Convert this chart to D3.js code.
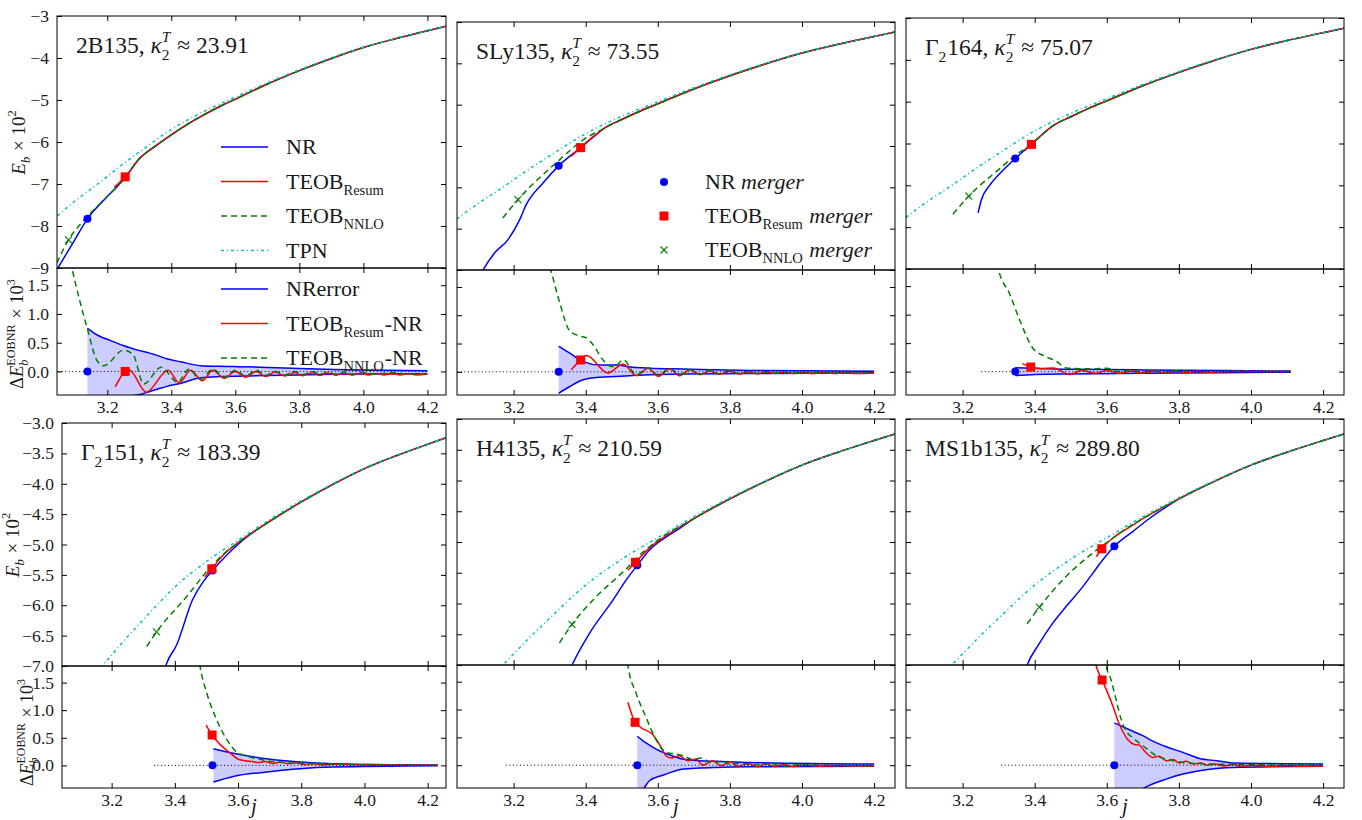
<!DOCTYPE html>
<html>
<head>
<meta charset="utf-8">
<script src="https://cdn.jsdelivr.net/npm/d3@7"></script>
<style>
  body { margin: 0; background: #fff; }
  svg text { font-family: "Liberation Serif", "DejaVu Serif", serif; fill: #1a1a1a; white-space: pre; }
</style>
</head>
<body>
<svg id="chart" width="1362" height="820"></svg>
<script>
// ---- data ----
const jTicks = [3.2, 3.4, 3.6, 3.8, 4.0, 4.2];
const jDomain = [3.043, 4.258];
const ebDomainTop = [-9, -3];
const ebTicksTop = [-9, -8, -7, -6, -5, -4, -3];
const ebDomainBottom = [-7, -3];
const ebTicksBottom = [-7, -6.5, -6, -5.5, -5, -4.5, -4, -3.5, -3];
const dDomain = [-0.41, 1.8];
const dTicks = [0, 0.5, 1, 1.5];

const eosLabels = ['2B135', 'SLy135', 'Γ_2164', 'Γ_2151', 'H4135', 'MS1b135'];
const kappaT = ['23.91', '73.55', '75.07', '183.39', '210.59', '289.80'];

// binding energy where all EOB/NR curves coincide  [j, Eb x 1e2]
const commonCurve = [[3.30, -6.40], [3.35, -6.10], [3.40, -5.83], [3.45, -5.58], [3.50, -5.36],
  [3.55, -5.16], [3.60, -4.98], [3.70, -4.62], [3.80, -4.30], [3.90, -4.01], [4.00, -3.75],
  [4.10, -3.54], [4.20, -3.35], [4.26, -3.24]];
const tpnCurve = [[3.02, -7.90], [3.04, -7.78], [3.10, -7.40], [3.17, -7.00], [3.25, -6.52],
  [3.30, -6.24], [3.40, -5.70], [3.50, -5.28], [3.60, -4.93], [3.70, -4.59], [3.80, -4.28],
  [3.90, -4.00], [4.00, -3.745], [4.10, -3.54], [4.20, -3.35], [4.26, -3.24]];

const nrLow = [
  [[3.03, -9.2], [3.10, -8.31], [3.138, -7.83], [3.20, -7.30], [3.256, -6.85]],
  [[3.105, -9.2], [3.119, -8.95], [3.147, -8.59], [3.184, -8.27], [3.217, -7.78], [3.235, -7.42],
   [3.281, -6.90], [3.325, -6.48], [3.386, -6.04], [3.43, -5.72]],
  [[3.243, -7.66], [3.252, -7.35], [3.275, -7.00], [3.312, -6.64], [3.346, -6.36], [3.391, -6.02], [3.42, -5.79]],
  [[3.36, -7.2], [3.374, -6.96], [3.406, -6.65], [3.456, -5.91], [3.49, -5.61], [3.519, -5.43], [3.585, -5.07], [3.62, -4.91]],
  [[3.355, -7.1], [3.364, -6.98], [3.41, -6.49], [3.475, -5.95], [3.512, -5.62], [3.543, -5.38],
   [3.577, -5.13], [3.623, -4.92], [3.65, -4.82]],
  [[3.37, -7.15], [3.379, -7.0], [3.413, -6.65], [3.45, -6.32], [3.487, -6.05], [3.533, -5.73],
   [3.561, -5.51], [3.589, -5.29], [3.621, -5.07], [3.672, -4.83], [3.72, -4.61], [3.76, -4.45]]
];
const resumLow = [
  [[3.222, -7.08], [3.256, -6.83]],
  [[3.36, -6.25], [3.386, -6.04], [3.42, -5.78]],
  [[3.372, -6.16], [3.391, -6.02], [3.42, -5.79]],
  [[3.495, -5.53], [3.517, -5.40], [3.55, -5.19], [3.60, -4.97]],
  [[3.517, -5.46], [3.538, -5.33], [3.58, -5.08], [3.62, -4.91]],
  [[3.571, -5.24], [3.586, -5.11], [3.62, -4.92], [3.66, -4.77]]
];
const nnloLow = [
  [[3.03, -9.1], [3.079, -8.33], [3.12, -7.92], [3.16, -7.60], [3.20, -7.30], [3.256, -6.84]],
  [[3.17, -7.74], [3.212, -7.30], [3.328, -6.33], [3.393, -5.85]],
  [[3.173, -7.69], [3.217, -7.26], [3.303, -6.60], [3.344, -6.30], [3.395, -5.98], [3.42, -5.80]],
  [[3.311, -6.68], [3.342, -6.44], [3.437, -5.86], [3.52, -5.33], [3.56, -5.13], [3.60, -4.97]],
  [[3.327, -6.64], [3.362, -6.34], [3.429, -5.89], [3.503, -5.49], [3.56, -5.16], [3.60, -4.97]],
  [[3.379, -6.33], [3.413, -6.06], [3.487, -5.56], [3.561, -5.18], [3.626, -4.90], [3.66, -4.76]]
];
const nrMerger = [[3.138, -7.83], [3.325, -6.48], [3.346, -6.36], [3.519, -5.43], [3.543, -5.38], [3.621, -5.07]];
const resumMerger = [[3.256, -6.83], [3.386, -6.04], [3.391, -6.02], [3.517, -5.40], [3.538, -5.33], [3.586, -5.11]];
const nnloMerger = [[3.079, -8.33], [3.212, -7.30], [3.217, -7.26], [3.342, -6.44], [3.362, -6.34], [3.413, -6.06]];

// NR error band  [j, lower, upper]  (x 1e3)
const nrErrorBand = [
  [[3.138, -0.75, 0.75], [3.17, -0.66, 0.63], [3.209, -0.56, 0.54], [3.25, -0.47, 0.45], [3.282, -0.42, 0.39],
   [3.303, -0.40, 0.36], [3.355, -0.31, 0.28], [3.386, -0.26, 0.22], [3.428, -0.21, 0.17], [3.491, -0.11, 0.10],
   [3.55, -0.09, 0.09], [3.595, -0.085, 0.085], [3.70, -0.07, 0.07], [3.80, -0.06, 0.05], [3.907, -0.05, 0.035],
   [4.0, -0.045, 0.025], [4.2, -0.04, 0.01]],
  [[3.325, -0.38, 0.45], [3.356, -0.26, 0.33], [3.393, -0.14, 0.18], [3.439, -0.095, 0.12], [3.485, -0.083, 0.12],
   [3.531, -0.065, 0.08], [3.578, -0.05, 0.065], [3.67, -0.04, 0.05], [3.856, -0.03, 0.024], [4.2, -0.02, 0.01]],
  [[3.346, -0.07, 0.07], [3.40, -0.05, 0.06], [3.5, -0.04, 0.04], [3.7, -0.03, 0.03], [4.11, -0.01, 0.01]],
  [[3.522, -0.30, 0.30], [3.585, -0.20, 0.22], [3.69, -0.12, 0.12], [3.796, -0.06, 0.06], [3.90, -0.03, 0.03],
   [4.232, -0.006, 0.006]],
  [[3.543, -0.55, 0.52], [3.563, -0.40, 0.42], [3.577, -0.28, 0.36], [3.614, -0.18, 0.23], [3.623, -0.16, 0.21],
   [3.669, -0.07, 0.11], [3.716, -0.05, 0.08], [3.762, -0.04, 0.07], [3.85, -0.03, 0.05], [4.2, -0.02, 0.02]],
  [[3.621, -0.76, 0.76], [3.672, -0.55, 0.61], [3.70, -0.42, 0.53], [3.719, -0.36, 0.46], [3.765, -0.25, 0.33],
   [3.811, -0.16, 0.23], [3.857, -0.10, 0.12], [3.904, -0.06, 0.08], [3.95, -0.04, 0.04], [4.2, -0.02, 0.02]]
];
const resumMinusNR = [
  [[3.225, -0.27], [3.256, 0.0], [3.268, 0.03], [3.322, -0.36], [3.39, 0.02], [3.425, -0.20], [3.46, 0.02],
   [3.497, -0.16], [3.53, 0.02], [3.565, -0.12], [3.60, 0.0], [3.632, -0.10], [3.665, 0.0], [3.695, -0.09],
   [3.725, -0.01], [3.755, -0.08], [3.785, -0.02], [3.81, -0.075], [3.84, -0.02], [3.865, -0.07], [3.89, -0.025],
   [3.915, -0.065], [3.94, -0.03], [3.965, -0.065], [3.99, -0.03], [4.015, -0.06], [4.04, -0.035], [4.065, -0.06],
   [4.09, -0.035], [4.115, -0.06], [4.14, -0.04], [4.165, -0.06], [4.2, -0.045]],
  [[3.36, 0.035], [3.386, 0.21], [3.402, 0.29], [3.462, -0.02], [3.504, 0.14], [3.541, -0.07], [3.573, 0.065],
   [3.601, -0.08], [3.633, 0.05], [3.661, -0.07], [3.689, 0.035], [3.717, -0.05], [3.745, 0.02], [3.77, -0.045],
   [3.80, 0.01], [3.825, -0.04], [3.85, 0.0], [3.875, -0.035], [3.90, -0.005], [3.925, -0.03], [3.95, -0.005],
   [3.975, -0.03], [4.0, -0.01], [4.03, -0.03], [4.06, -0.01], [4.09, -0.03], [4.12, -0.01], [4.15, -0.03],
   [4.2, -0.02]],
  [[3.366, 0.14], [3.389, 0.08], [3.42, 0.05], [3.451, 0.065], [3.497, -0.05], [3.53, 0.02], [3.57, -0.03],
   [3.60, 0.02], [3.635, -0.03], [3.665, 0.01], [3.70, -0.025], [3.73, 0.01], [3.76, -0.02], [3.79, 0.01],
   [3.82, -0.015], [3.85, 0.005], [3.88, -0.01], [3.95, 0.0], [4.11, 0.0]],
  [[3.499, 0.73], [3.518, 0.55], [3.543, 0.38], [3.574, 0.23], [3.601, 0.11], [3.627, 0.08], [3.645, 0.07],
   [3.665, 0.05], [3.685, 0.07], [3.71, 0.035], [3.735, 0.06], [3.76, 0.03], [3.785, 0.045], [3.81, 0.015],
   [3.84, 0.03], [3.87, 0.01], [3.90, 0.02], [4.0, 0.01], [4.232, 0.0]],
  [[3.517, 1.13], [3.537, 0.77], [3.554, 0.67], [3.586, 0.55], [3.605, 0.37], [3.623, 0.17], [3.637, 0.13],
   [3.66, 0.17], [3.683, 0.08], [3.706, 0.11], [3.725, 0.0], [3.753, 0.08], [3.776, -0.01], [3.80, 0.06],
   [3.822, -0.02], [3.85, 0.03], [3.875, -0.025], [3.90, 0.02], [3.925, -0.025], [3.95, 0.01], [3.975, -0.025],
   [4.0, 0.005], [4.05, -0.02], [4.1, -0.005], [4.15, -0.02], [4.2, -0.015]],
  [[3.565, 1.95], [3.57, 1.80], [3.587, 1.53], [3.603, 1.29], [3.617, 1.06], [3.635, 0.73], [3.644, 0.61],
   [3.658, 0.46], [3.677, 0.37], [3.69, 0.36], [3.705, 0.25], [3.728, 0.14], [3.745, 0.16], [3.765, 0.08],
   [3.785, 0.10], [3.80, 0.04], [3.82, 0.07], [3.84, 0.02], [3.86, 0.04], [3.88, 0.0], [3.90, 0.02],
   [3.925, -0.01], [3.95, 0.01], [3.975, -0.02], [4.0, 0.0], [4.05, -0.02], [4.1, -0.01], [4.15, -0.02], [4.2, -0.02]]
];
const nnloMinusNR = [
  [[3.06, 2.6], [3.09, 1.79], [3.138, 0.74], [3.168, 0.19], [3.189, 0.10], [3.251, 0.37], [3.28, 0.30],
   [3.314, -0.22], [3.368, 0.075], [3.42, -0.19], [3.455, 0.04], [3.49, -0.14], [3.53, 0.04], [3.565, -0.10],
   [3.60, 0.02], [3.632, -0.08], [3.665, 0.02], [3.695, -0.07], [3.725, 0.0], [3.755, -0.06], [3.785, 0.0],
   [3.81, -0.055], [3.84, -0.005], [3.865, -0.05], [3.89, -0.01], [3.915, -0.05], [3.94, -0.015], [3.965, -0.05],
   [3.99, -0.015], [4.04, -0.045], [4.09, -0.02], [4.14, -0.045], [4.2, -0.035]],
  [[3.30, 1.85], [3.305, 1.75], [3.328, 1.22], [3.356, 0.72], [3.385, 0.63], [3.402, 0.60], [3.42, 0.48],
   [3.448, 0.21], [3.467, 0.10], [3.48, 0.09], [3.504, 0.21], [3.541, -0.05], [3.573, 0.07], [3.601, -0.06],
   [3.633, 0.06], [3.661, -0.05], [3.689, 0.04], [3.717, -0.04], [3.745, 0.03], [3.77, -0.035], [3.80, 0.02],
   [3.825, -0.03], [3.85, 0.01], [3.875, -0.03], [3.90, 0.0], [3.95, -0.02], [4.0, -0.01], [4.1, -0.02], [4.2, -0.02]],
  [[3.295, 1.9], [3.303, 1.71], [3.33, 1.37], [3.358, 0.91], [3.395, 0.41], [3.428, 0.27], [3.46, 0.18],
   [3.488, 0.065], [3.53, 0.05], [3.56, 0.05], [3.60, 0.06], [3.635, 0.0], [3.665, 0.03], [3.70, -0.01],
   [3.73, 0.02], [3.76, -0.01], [3.79, 0.015], [3.85, 0.0], [3.95, 0.005], [4.11, 0.0]],
  [[3.47, 2.2], [3.48, 1.79], [3.501, 1.31], [3.532, 0.83], [3.564, 0.47], [3.596, 0.24], [3.627, 0.17],
   [3.669, 0.11], [3.743, 0.05], [3.85, 0.03], [4.0, 0.01], [4.232, 0.0]],
  [[3.51, 2.2], [3.517, 1.80], [3.54, 1.29], [3.568, 0.85], [3.595, 0.46], [3.623, 0.23], [3.651, 0.20],
   [3.67, 0.17], [3.70, 0.10], [3.72, 0.13], [3.75, 0.04], [3.78, 0.07], [3.80, 0.01], [3.83, 0.04],
   [3.86, 0.0], [3.90, 0.02], [3.95, -0.01], [4.0, 0.01], [4.1, -0.01], [4.2, -0.01]],
  [[3.595, 1.95], [3.598, 1.80], [3.612, 1.53], [3.626, 1.17], [3.64, 0.82], [3.654, 0.61], [3.673, 0.49],
   [3.69, 0.40], [3.714, 0.28], [3.737, 0.17], [3.765, 0.11], [3.81, 0.05], [3.85, 0.03], [4.0, 0.01], [4.2, 0.0]]
];
const resumMergerDelta = [[3.256, 0.0], [3.386, 0.21], [3.389, 0.08], [3.518, 0.55], [3.537, 0.77], [3.587, 1.53]];
const zeroSpan = [[3.047, 4.2], [3.044, 4.2], [3.252, 4.11], [3.334, 4.232], [3.179, 4.2], [3.307, 4.2]];

// ---- layout ----
const layout = [
  {x0: 57, x1: 446, top: 16, mid: 268, bot: 395, row: 0},
  {x0: 457, x1: 895, top: 22, mid: 270, bot: 395, row: 0},
  {x0: 906, x1: 1344, top: 18, mid: 269, bot: 395, row: 0},
  {x0: 62, x1: 446, top: 423, mid: 666, bot: 788, row: 1},
  {x0: 457, x1: 895, top: 419, mid: 665, bot: 788, row: 1},
  {x0: 906, x1: 1344, top: 419, mid: 665, bot: 788, row: 1}
];
const C = {nr: '#0000ff', resum: '#ff0000', nnlo: '#008000', tpn: '#00bfbf', band: '#ccccff'};
const tickFont = 17.5;

const svg = d3.select('#chart');
const defs = svg.append('defs');
const minus = s => s.replace('-', '\u2212');

// text with sub/superscripts, returns width
function rich(g, x, y, size, parts) {
  let cx = x;
  parts.forEach(p => {
    if (typeof p === 'string') p = {s: p};
    if (p.s !== undefined) {
      const t = g.append('text').attr('x', cx).attr('y', y)
        .style('font-size', size + 'px')
        .style('font-style', p.it ? 'italic' : 'normal')
        .text(p.s);
      cx += t.node().getComputedTextLength();
    } else {
      const ss = size * 0.66;
      let w = 0;
      if (p.sub !== undefined) {
        const t = g.append('text').attr('x', cx).attr('y', y + size * 0.28)
          .style('font-size', ss + 'px').style('font-style', p.subIt ? 'italic' : 'normal').text(p.sub);
        w = Math.max(w, t.node().getComputedTextLength());
      }
      if (p.sup !== undefined) {
        const t = g.append('text').attr('x', cx).attr('y', y - size * 0.45)
          .style('font-size', ss + 'px').style('font-style', p.supIt ? 'italic' : 'normal').text(p.sup);
        w = Math.max(w, t.node().getComputedTextLength());
      }
      cx += w + 1;
    }
  });
  return cx - x;
}

function rotatedLabel(x, yc, size, parts) {
  const g = svg.append('g').attr('transform', `translate(${x},${yc}) rotate(-90)`);
  const inner = g.append('g');
  const w = rich(inner, 0, 0, size, parts);
  inner.attr('transform', `translate(${-w / 2},0)`);
}

function marker(g, type, cx, cy) {
  if (type === 'nr') {
    g.append('circle').attr('cx', cx).attr('cy', cy).attr('r', 4).attr('fill', C.nr);
  } else if (type === 'resum') {
    g.append('rect').attr('x', cx - 4.5).attr('y', cy - 4.5).attr('width', 9).attr('height', 9).attr('fill', C.resum);
  } else {
    g.append('path').attr('transform', `translate(${cx},${cy})`)
      .attr('d', 'M-3.5,-3.5L3.5,3.5M-3.5,3.5L3.5,-3.5')
      .attr('stroke', C.nnlo).attr('stroke-width', 1.1).attr('fill', 'none');
  }
}

function withCommon(low) {
  const last = low[low.length - 1][0];
  return low.concat(commonCurve.filter(d => d[0] > last + 0.015));
}

function plainAxis(g) {
  g.attr('font-family', null).attr('font-size', null);
  g.select('.domain').remove();
  g.selectAll('.tick line').attr('stroke', '#000');
  g.selectAll('.tick text').attr('fill', null).style('font-size', tickFont + 'px');
}

layout.forEach((L, i) => {
  const x = d3.scaleLinear().domain(jDomain).range([L.x0, L.x1]);
  const yU = d3.scaleLinear().domain(L.row ? ebDomainBottom : ebDomainTop).range([L.mid, L.top]);
  const yD = d3.scaleLinear().domain(dDomain).range([L.bot, L.mid]);

  defs.append('clipPath').attr('id', 'cu' + i).append('rect')
    .attr('x', L.x0).attr('y', L.top).attr('width', L.x1 - L.x0).attr('height', L.mid - L.top);
  defs.append('clipPath').attr('id', 'cd' + i).append('rect')
    .attr('x', L.x0).attr('y', L.mid).attr('width', L.x1 - L.x0).attr('height', L.bot - L.mid);

  // upper panel: binding energy
  const gu = svg.append('g').attr('clip-path', `url(#cu${i})`);
  const lineU = d3.line().x(d => x(d[0])).y(d => yU(d[1])).curve(d3.curveMonotoneX);
  const curves = [
    {d: withCommon(nrLow[i]), c: C.nr},
    {d: withCommon(resumLow[i]), c: C.resum},
    {d: withCommon(nnloLow[i]), c: C.nnlo, dash: '6,4'},
    {d: tpnCurve, c: C.tpn, dash: '3,3,1,3'}
  ];
  curves.forEach(k => {
    gu.append('path').attr('d', lineU(k.d)).attr('fill', 'none')
      .attr('stroke', k.c).attr('stroke-width', 1.5)
      .attr('stroke-dasharray', k.dash || null);
  });
  marker(gu, 'nr', x(nrMerger[i][0]), yU(nrMerger[i][1]));
  marker(gu, 'resum', x(resumMerger[i][0]), yU(resumMerger[i][1]));
  marker(gu, 'nnlo', x(nnloMerger[i][0]), yU(nnloMerger[i][1]));

  // lower panel: differences
  const gd = svg.append('g').attr('clip-path', `url(#cd${i})`);
  const band = nrErrorBand[i];
  gd.append('path').attr('fill', C.band)
    .attr('d', d3.area().x(d => x(d[0])).y0(d => yD(d[1])).y1(d => yD(d[2])).curve(d3.curveMonotoneX)(band));
  [1, 2].forEach(k => {
    gd.append('path').attr('fill', 'none').attr('stroke', C.nr).attr('stroke-width', 1.5)
      .attr('d', d3.line().x(d => x(d[0])).y(d => yD(d[k])).curve(d3.curveMonotoneX)(band));
  });
  const lineD = d3.line().x(d => x(d[0])).y(d => yD(d[1])).curve(d3.curveMonotoneX);
  gd.append('path').attr('d', lineD(resumMinusNR[i])).attr('fill', 'none')
    .attr('stroke', C.resum).attr('stroke-width', 1.5);
  gd.append('path').attr('d', lineD(nnloMinusNR[i])).attr('fill', 'none')
    .attr('stroke', C.nnlo).attr('stroke-width', 1.5).attr('stroke-dasharray', '6,4');
  gd.append('line')
    .attr('x1', x(zeroSpan[i][0])).attr('x2', x(zeroSpan[i][1]))
    .attr('y1', yD(0)).attr('y2', yD(0))
    .attr('stroke', '#000').attr('stroke-width', 1).attr('stroke-dasharray', '1,2.5');
  marker(gd, 'nr', x(nrMerger[i][0]), yD(0));
  marker(gd, 'resum', x(resumMergerDelta[i][0]), yD(resumMergerDelta[i][1]));

  // frames and ticks
  const yTicksU = L.row ? ebTicksBottom : ebTicksTop;
  const fmtU = L.row ? (d => minus(d3.format('.1f')(d))) : (d => minus(String(d)));
  const showY = (i % 3 === 0);
  const axes = [
    {ax: d3.axisTop(x).tickValues(jTicks).tickFormat(''), y: L.top},
    {ax: d3.axisBottom(x).tickValues(jTicks).tickFormat(''), y: L.mid},
    {ax: d3.axisTop(x).tickValues(jTicks).tickFormat(''), y: L.mid},
    {ax: d3.axisBottom(x).tickValues(jTicks).tickFormat(d3.format('.1f')), y: L.bot},
  ];
  axes.forEach(a => {
    svg.append('g').attr('transform', `translate(0,${a.y})`)
      .call(a.ax.tickSize(-5).tickSizeOuter(0).tickPadding(6)).call(plainAxis);
  });
  [[yU, yTicksU, fmtU], [yD, dTicks, d3.format('.1f')]].forEach(([ys, tv, f]) => {
    svg.append('g').attr('transform', `translate(${L.x0},0)`)
      .call(d3.axisLeft(ys).tickValues(tv).tickSize(-5).tickSizeOuter(0).tickPadding(8)
        .tickFormat(showY ? f : '')).call(plainAxis);
    svg.append('g').attr('transform', `translate(${L.x1},0)`)
      .call(d3.axisRight(ys).tickValues(tv).tickSize(-5).tickSizeOuter(0).tickFormat('')).call(plainAxis);
  });

  [[L.top, L.mid], [L.mid, L.bot]].forEach(([a, b]) => {
    svg.append('rect').attr('x', L.x0).attr('y', a).attr('width', L.x1 - L.x0).attr('height', b - a)
      .attr('fill', 'none').attr('stroke', '#000').attr('stroke-width', 1);
  });

  // panel title
  const nm = eosLabels[i].split('_');
  const tparts = nm.length > 1 ? [nm[0], {sub: nm[1][0]}, nm[1].slice(1) + ', '] : [nm[0] + ', '];
  rich(svg.append('g'), L.x0 + 19, L.top + 37, 23.5,
    tparts.concat([{s: 'κ', it: true}, {sub: '2', sup: 'T', supIt: true}, ' ≈ ' + kappaT[i]]));

  if (L.row === 1) {
    svg.append('text').attr('x', (L.x0 + L.x1) / 2).attr('y', 813)
      .attr('text-anchor', 'middle').style('font-size', '21px').style('font-style', 'italic').text('j');
  }
});

// axis labels
const ebLabel = [{s: 'E', it: true}, {sub: 'b', subIt: true}, ' × 10', {sup: '2'}];
const dLabel = ['Δ', {s: 'E', it: true}, {sub: 'b', subIt: true, sup: 'EOBNR'}, ' × 10', {sup: '3'}];
rotatedLabel(25, (layout[0].top + layout[0].mid) / 2, 19, ebLabel);
rotatedLabel(23, (layout[0].mid + layout[0].bot) / 2 + 2, 18.5, dLabel);
rotatedLabel(19, (layout[3].top + layout[3].mid) / 2, 19, ebLabel);
rotatedLabel(33, (layout[3].mid + layout[3].bot) / 2 + 5, 18, dLabel);

// legends
function lineLegend(x, y0, entries) {
  entries.forEach((e, k) => {
    const y = y0 + k * 34.5;
    svg.append('line').attr('x1', x).attr('x2', x + 47).attr('y1', y).attr('y2', y)
      .attr('stroke', e.c).attr('stroke-width', 1.5).attr('stroke-dasharray', e.dash || null);
    rich(svg.append('g'), x + 65, y + 7, 22, e.label);
  });
}
lineLegend(layout[0].x0 + 164, 147, [
  {c: C.nr, label: ['NR']},
  {c: C.resum, label: ['TEOB', {sub: 'Resum'}]},
  {c: C.nnlo, dash: '6,4', label: ['TEOB', {sub: 'NNLO'}]},
  {c: C.tpn, dash: '3,3,1,3', label: ['TPN']}
]);
lineLegend(layout[0].x0 + 164, 289, [
  {c: C.nr, label: ['NRerror']},
  {c: C.resum, label: ['TEOB', {sub: 'Resum'}, '-NR']},
  {c: C.nnlo, dash: '6,4', label: ['TEOB', {sub: 'NNLO'}, '-NR']}
]);
const mk = [
  {t: 'nr', label: ['NR ', {s: 'merger', it: true}]},
  {t: 'resum', label: ['TEOB', {sub: 'Resum'}, ' ', {s: 'merger', it: true}]},
  {t: 'nnlo', label: ['TEOB', {sub: 'NNLO'}, ' ', {s: 'merger', it: true}]}
];
mk.forEach((e, k) => {
  const y = 182 + k * 34;
  marker(svg, e.t, layout[1].x0 + 207, y);
  rich(svg.append('g'), layout[1].x0 + 248, y + 7, 22, e.label);
});
</script>
</body>
</html>
